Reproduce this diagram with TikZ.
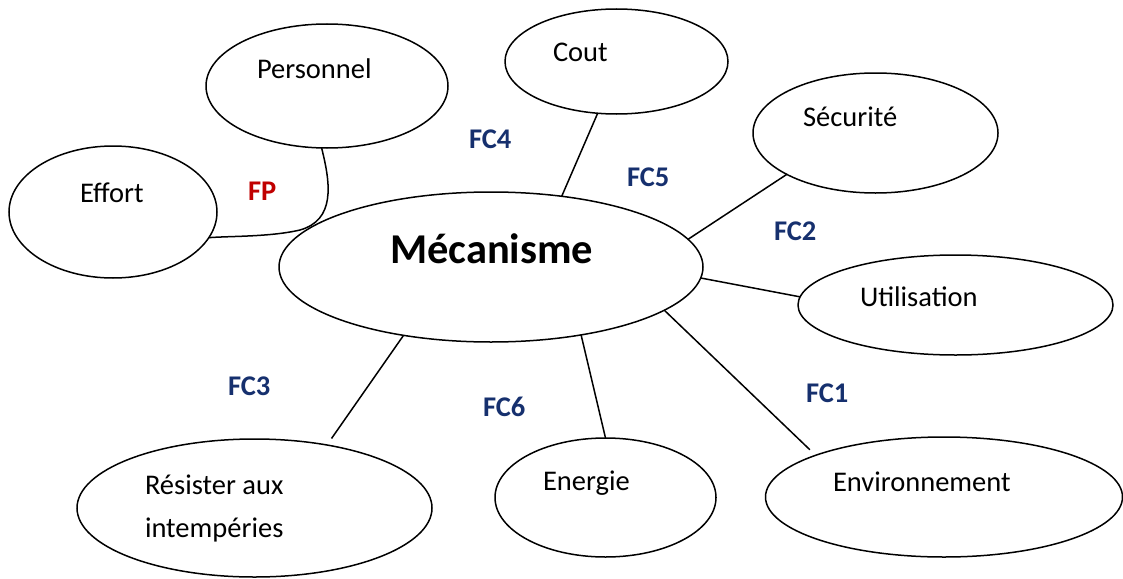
\documentclass[tikz,border=0pt]{standalone}
\usepackage{fontspec}
\setmainfont{Carlito}
\usetikzlibrary{shapes.geometric}
\definecolor{fcblue}{RGB}{22,48,110}
\definecolor{fpred}{RGB}{192,0,0}
\tikzset{
  ell/.style={draw=black, ellipse, line width=1.5pt, inner sep=0pt, outer sep=0pt},
  lbl/.style={anchor=base west, inner sep=0pt, outer sep=0pt, font=\fontsize{28.5}{34}\selectfont},
  fc/.style={lbl, font=\fontsize{28.5}{34}\selectfont\bfseries, text=fcblue},
  fp/.style={lbl, font=\fontsize{28.5}{34}\selectfont\bfseries, text=fpred},
  conn/.style={draw=black, line width=1.5pt}
}
\begin{document}
\begin{tikzpicture}[x=1pt, y=-1pt]
\useasboundingbox (0,0) rectangle (1123,578);
% ellipses
\node[ell, minimum width=242pt, minimum height=124pt] (pers) at (327,86) {};
\node[ell, minimum width=208pt, minimum height=132pt] (effort) at (113,212) {};
\node[ell, minimum width=223pt, minimum height=105pt] (cout) at (616.5,61.5) {};
\node[ell, minimum width=245pt, minimum height=120pt] (secu) at (875.5,133) {};
\node[ell, minimum width=424pt, minimum height=150pt] (meca) at (491,267) {};
\node[ell, minimum width=315pt, minimum height=100pt] (util) at (955.5,305) {};
\node[ell, minimum width=357pt, minimum height=120pt] (env) at (944,497) {};
\node[ell, minimum width=221pt, minimum height=119pt] (ener) at (605.5,497.5) {};
\node[ell, minimum width=355pt, minimum height=138pt] (resi) at (254.5,508) {};
% texts
\node[lbl] (pers-t) at (257,78) {Personnel};
\node[lbl] (effort-t) at (80,202) {Effort};
\node[lbl] (cout-t) at (553,62) {Cout};
\node[lbl] (secu-t) at (803,126) {Sécurité};
\node[lbl, font=\fontsize{42.5}{50}\selectfont\bfseries] (meca-t) at (390,263) {Mécanisme};
\node[lbl] (util-t) at (860,306) {Utilisation};
\node[lbl] (env-t) at (833,491) {Environnement};
\node[lbl] (ener-t) at (543,490) {Energie};
\node[lbl] (resi-t1) at (145,494) {Résister aux};
\node[lbl] (resi-t2) at (145,537) {intempéries};
% function labels
\node[fp] (fp) at (248,200) {FP};
\node[fc] (fc4) at (469,148) {FC4};
\node[fc] (fc5) at (627,186) {FC5};
\node[fc] (fc2) at (774,240) {FC2};
\node[fc] (fc3) at (228,395) {FC3};
\node[fc] (fc6) at (483,416) {FC6};
\node[fc] (fc1) at (806,402) {FC1};
% connectors
\draw[conn] (pers.-95) .. controls (331,185) and (335,220) .. (300,230)
            .. controls (270,237) and (230,236) .. (effort.-15);
\draw[conn] (meca.45.4) -- (cout.-110.7);
\draw[conn] (meca.8.6) -- (secu.-155.6);
\draw[conn] (meca.-3.5) -- (util.177.4);
\draw[conn, shorten >=8pt] (meca.-14.3) -- (env.162.7);
\draw[conn] (meca.-37) -- (ener.90);
\draw[conn, shorten >=8pt] (meca.-142.4) -- (resi.41);
\end{tikzpicture}
\end{document}
